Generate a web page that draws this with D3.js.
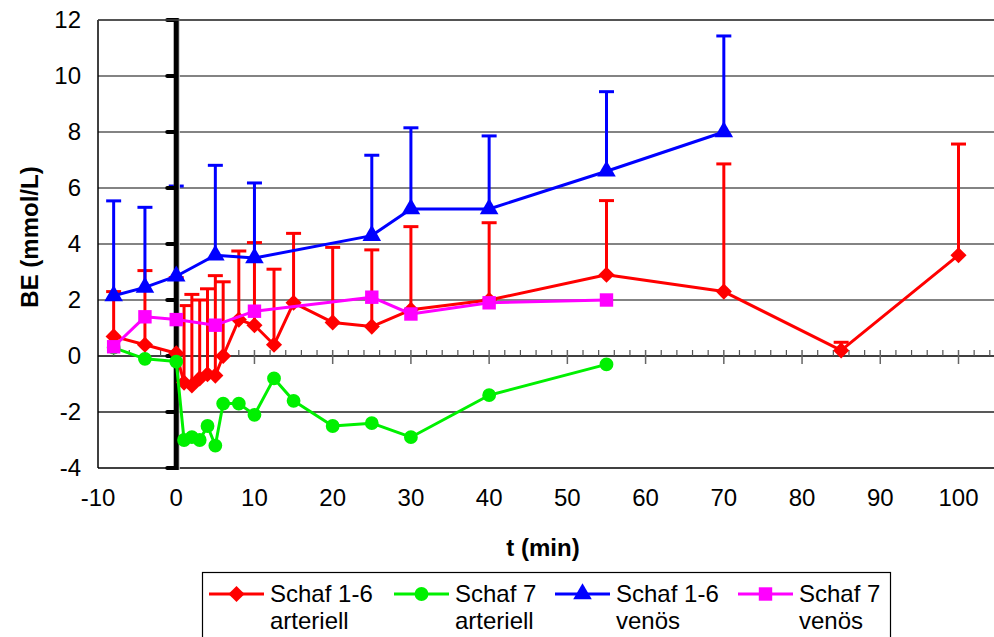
<!DOCTYPE html>
<html>
<head>
<meta charset="utf-8">
<script src="https://cdn.jsdelivr.net/npm/d3@7"></script>
<style>
  html, body { margin: 0; padding: 0; background: #fff; }
  svg { display: block; }
  text { font-family: "Liberation Sans", Arial, sans-serif; fill: #000; }
</style>
</head>
<body>
<svg id="chart" width="994" height="637"></svg>
<script>
// Base excess over time (mean + upper SD bar)
const tArt16 = [-8, -4, 0, 1, 2, 3, 4, 5, 6, 8, 10, 12.5, 15, 20, 25, 30, 40, 55, 70, 85, 100];
const art16  = [0.7, 0.4, 0.1, -0.95, -1.05, -0.8, -0.65, -0.7, 0.0, 1.3, 1.1, 0.4, 1.9, 1.2, 1.05, 1.65, 2.0, 2.9, 2.3, 0.2, 3.6];
const art16SD = [1.6, 2.65, 2.7, 2.75, 3.25, 2.8, 3.05, 3.57, 2.65, 2.45, 2.95, 2.7, 2.48, 2.68, 2.74, 2.97, 2.76, 2.65, 4.56, 0.29, 3.97];

const tArt7 = [-8, -4, 0, 1, 2, 3, 4, 5, 6, 8, 10, 12.5, 15, 20, 25, 30, 40, 55];
const art7  = [0.3, -0.1, -0.2, -3.0, -2.9, -3.0, -2.5, -3.2, -1.7, -1.7, -2.1, -0.8, -1.6, -2.5, -2.4, -2.9, -1.4, -0.3];

const tVen16 = [-8, -4, 0, 5, 10, 25, 30, 40, 55, 70];
const ven16  = [2.15, 2.45, 2.85, 3.6, 3.5, 4.3, 5.25, 5.25, 6.6, 8.0];
const ven16SD = [3.39, 2.86, 3.22, 3.21, 2.68, 2.87, 2.9, 2.61, 2.84, 3.43];

const tVen7 = [-8, -4, 0, 5, 10, 25, 30, 40, 55];
const ven7  = [0.33, 1.4, 1.3, 1.1, 1.6, 2.1, 1.5, 1.9, 2.0];

const xTicks = [-10, 0, 10, 20, 30, 40, 50, 60, 70, 80, 90, 100];
const yTicks = [-4, -2, 0, 2, 4, 6, 8, 10, 12];

const seriesNames = [["Schaf 1-6", "arteriell"], ["Schaf 7", "arteriell"], ["Schaf 1-6", "venös"], ["Schaf 7", "venös"]];
const seriesColors = ["#ff0000", "#00f000", "#0000ff", "#ff00ff"];
// diamond = square turned by 45°
const seriesShapes = [d3.symbolSquare, d3.symbolCircle, d3.symbolTriangle, d3.symbolSquare];
const seriesRot = [45, 0, 0, 0];
const symSize = [130, 150, 150, 180];

const series = [
  { t: tArt16, v: art16, sd: art16SD },
  { t: tArt7,  v: art7,  sd: null },
  { t: tVen16, v: ven16, sd: ven16SD },
  { t: tVen7,  v: ven7,  sd: null }
].map((s, i) => ({
  ...s, name: seriesNames[i], color: seriesColors[i], shape: seriesShapes[i], rot: seriesRot[i], size: symSize[i],
  pts: s.t.map((t, j) => ({ t, v: s.v[j], sd: s.sd ? s.sd[j] : 0 }))
}));

const svg = d3.select("#chart");
const plotLeft = 98, plotTop = 20, plotBottom = 468, plotRight = 1000;

const x = d3.scaleLinear().domain([-10, 100]).range([98, 958.5]);
const y = d3.scaleLinear().domain([-4, 12]).range([468, 20]);

// horizontal gridlines
svg.append("g").selectAll("line").data(yTicks.filter(d => d !== 0 && d !== -4)).join("line")
  .attr("x1", plotLeft).attr("x2", plotRight)
  .attr("y1", d => y(d)).attr("y2", d => y(d))
  .attr("stroke", d => d < 0 ? "#222" : "#5a5a5a").attr("stroke-width", 1.5);

// plot frame (left and bottom)
svg.append("line").attr("x1", plotLeft).attr("x2", plotLeft).attr("y1", plotTop).attr("y2", plotBottom)
  .attr("stroke", "#000").attr("stroke-width", 1.5);
svg.append("line").attr("x1", plotLeft).attr("x2", plotRight).attr("y1", plotBottom).attr("y2", plotBottom)
  .attr("stroke", "#000").attr("stroke-width", 1.5);

// x axis crossing at BE = 0 with major/minor ticks
const y0 = y(0);
svg.append("line").attr("x1", plotLeft).attr("x2", plotRight).attr("y1", y0).attr("y2", y0)
  .attr("stroke", "#000").attr("stroke-width", 1.5);
const minor = d3.range(-10, 105, 2).filter(d => d % 10 !== 0);
svg.append("g").selectAll("line").data(minor).join("line")
  .attr("x1", d => x(d)).attr("x2", d => x(d)).attr("y1", y0 - 6).attr("y2", y0)
  .attr("stroke", "#555").attr("stroke-width", 1.2);
svg.append("g").selectAll("line").data(xTicks.filter(d => d !== 0 && d !== -10)).join("line")
  .attr("x1", d => x(d)).attr("x2", d => x(d)).attr("y1", y0 - 6).attr("y2", y0 + 8)
  .attr("stroke", "#666").attr("stroke-width", 1.5);

// tick labels
svg.append("g").selectAll("text").data(xTicks).join("text")
  .attr("x", d => x(d)).attr("y", 498).attr("dy", "0.35em")
  .attr("text-anchor", "middle").attr("font-size", 24)
  .text(d => d);
svg.append("g").selectAll("text").data(yTicks).join("text")
  .attr("x", 81).attr("y", d => y(d)).attr("dy", "0.35em")
  .attr("text-anchor", "end").attr("font-size", 24)
  .text(d => d);

// axis titles
svg.append("text").attr("x", 543).attr("y", 548).attr("dy", "0.35em")
  .attr("text-anchor", "middle").attr("font-size", 24).attr("font-weight", "bold")
  .text("t (min)");
svg.append("text").attr("transform", "translate(30,237) rotate(-90)").attr("dy", "0.35em")
  .attr("text-anchor", "middle").attr("font-size", 24).attr("font-weight", "bold")
  .text("BE (mmol/L)");

// error bars (mean + SD)
const capW = 7.5;
series.filter(s => s.sd).forEach(s => {
  const g = svg.append("g").attr("stroke", s.color).attr("stroke-width", 3);
  g.selectAll("line.bar").data(s.pts).join("line").attr("class", "bar")
    .attr("x1", d => x(d.t)).attr("x2", d => x(d.t))
    .attr("y1", d => y(d.v)).attr("y2", d => y(d.v + d.sd));
  g.selectAll("line.cap").data(s.pts).join("line").attr("class", "cap")
    .attr("x1", d => x(d.t) - capW).attr("x2", d => x(d.t) + capW)
    .attr("y1", d => y(d.v + d.sd)).attr("y2", d => y(d.v + d.sd));
});

// thick vertical axis at t = 0 with outside ticks
const xz = x(0);
svg.append("line").attr("x1", xz + 0.6).attr("x2", xz + 0.6).attr("y1", plotTop - 2).attr("y2", plotBottom + 2)
  .attr("stroke", "#ccc").attr("stroke-width", 6);
svg.append("line").attr("x1", xz).attr("x2", xz).attr("y1", plotTop - 2).attr("y2", plotBottom + 2)
  .attr("stroke", "#000").attr("stroke-width", 5);
svg.append("g").selectAll("line").data(yTicks).join("line")
  .attr("x1", xz - 9).attr("x2", xz).attr("y1", d => y(d)).attr("y2", d => y(d))
  .attr("stroke", "#000").attr("stroke-width", 4).attr("stroke-linecap", "round");

// top frame
svg.append("line").attr("x1", plotLeft).attr("x2", plotRight).attr("y1", plotTop).attr("y2", plotTop)
  .attr("stroke", "#444").attr("stroke-width", 1.5);

// series lines and markers
const line = d3.line().x(d => x(d.t)).y(d => y(d.v));
series.forEach(s => {
  svg.append("path").datum(s.pts).attr("d", line)
    .attr("fill", "none").attr("stroke", s.color).attr("stroke-width", 3).attr("stroke-linejoin", "round");
  svg.append("g").selectAll("path").data(s.pts).join("path")
    .attr("transform", d => `translate(${x(d.t)},${y(d.v)}) rotate(${s.rot})`)
    .attr("d", d3.symbol(s.shape, s.size))
    .attr("fill", s.color);
});

// legend
const lg = svg.append("g");
lg.append("rect").attr("x", 202.5).attr("y", 572.5).attr("width", 688).attr("height", 80)
  .attr("fill", "#fff").attr("stroke", "#000").attr("stroke-width", 1.2);
const legX = [209, 394, 555, 738];
series.forEach((s, i) => {
  const lx = legX[i];
  lg.append("line").attr("x1", lx).attr("x2", lx + 55).attr("y1", 594).attr("y2", 594)
    .attr("stroke", s.color).attr("stroke-width", 3);
  lg.append("path").attr("transform", `translate(${lx + 27.5},594) rotate(${s.rot})`)
    .attr("d", d3.symbol(s.shape, s.size)).attr("fill", s.color);
  lg.append("text").attr("x", lx + 61).attr("y", 594).attr("dy", "0.35em").attr("font-size", 24).text(s.name[0]);
  lg.append("text").attr("x", lx + 61).attr("y", 621).attr("dy", "0.35em").attr("font-size", 24).text(s.name[1]);
});
</script>
</body>
</html>
